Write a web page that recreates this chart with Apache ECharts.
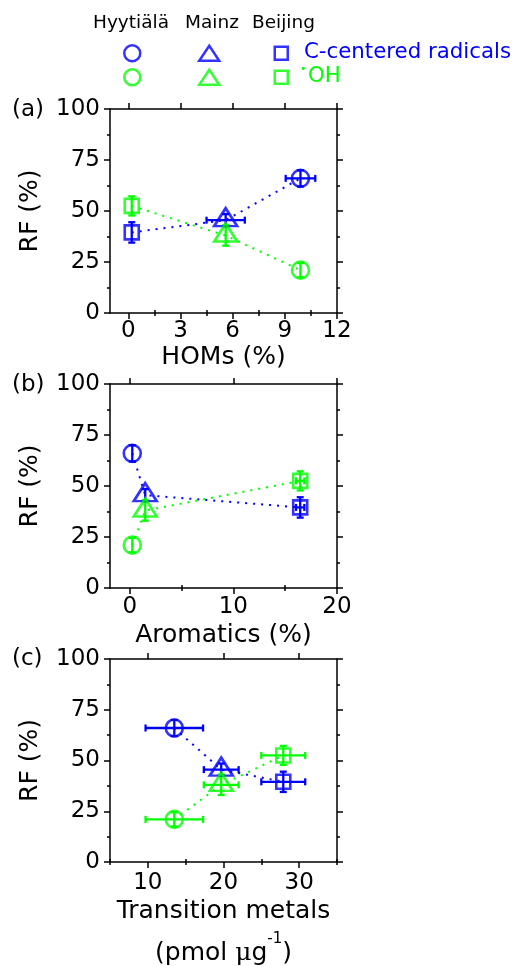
<!DOCTYPE html>
<html>
<head>
<meta charset="utf-8">
<script src="https://cdn.jsdelivr.net/npm/echarts@6/dist/echarts.min.js"></script>
<style>html,body{margin:0;padding:0;background:#fff;}#c{width:517px;height:966px;}</style>
</head>
<body>
<div id="c"></div>
<script>
// ---------------- data ----------------
const sites = ['Hyytiälä', 'Mainz', 'Beijing'];
const radicalTypes = ['C-centered radicals', 'OH'];
// RF (%) for each site (Hyytiälä, Mainz, Beijing)
const cRF = [66, 45.5, 39.5];
const cRFErr = [4, 3, 5];
const ohRF = [21, 38, 52.5];
const ohRFErr = [3.5, 5, 4.7];
// panel (a) HOMs (%)
const homsX = [9.9, 5.6, 0.2];
const homsXErrC = [0.85, 1.1, 0];
const homsXErrOH = [0, 0, 0];
// panel (b) Aromatics (%)
const aromX = [0.25, 1.5, 16.45];
const aromXErrC = [0, 0, 0.4];
const aromXErrOH = [0, 0, 0.4];
// panel (c) Transition metals (pmol/ug)
const tmX = [13.5, 19.7, 27.9];
const tmXErrC = [3.8, 2.3, 2.9];
const tmXErrOH = [3.8, 2.3, 2.9];
// tick labels
const homsTicks = [0, 3, 6, 9, 12];
const homsMinor = [1.5, 4.5, 7.5, 10.5];
const aromTicks = [0, 10, 20];
const aromMinor = [5, 15];
const tmTicks = [10, 20, 30];
const tmMinor = [5, 15, 25, 35];
const rfTicks = [0, 25, 50, 75, 100];

// ---------------- styles ----------------
const BLUE = '#0000ff', GREEN = '#00ff00';
const FONT = 'DejaVu Sans';
const symbols = ['circle', 'triangle', 'rect'];
const symSizes = [17, [23, 18], 14];
const symOffsets = [[0, 0], [0, -3], [0, 0]];

const panels = [
  { x: homsX, xeC: homsXErrC, xeO: homsXErrOH, min: -1.05, max: 12, ticks: homsTicks, minor: homsMinor,
    name: 'HOMs (%)', top: 109, height: 204, nameGap: 25, lh: 38, lm: 7, tag: '(a)' },
  { x: aromX, xeC: aromXErrC, xeO: aromXErrOH, min: -1.9, max: 20, ticks: aromTicks, minor: aromMinor,
    name: 'Aromatics (%)', top: 384, height: 204, nameGap: 28, lh: 38, lm: 8, tag: '(b)' },
  { x: tmX, xeC: tmXErrC, xeO: tmXErrOH, min: 5, max: 35, ticks: tmTicks, minor: tmMinor,
    name: 'Transition metals\n(pmol {g|μ}g{sup|-1})', top: 659, height: 203, nameGap: 28, lh: 42, lm: 10, tag: '(c)' }
];

const axLine = { show: true, onZero: false, lineStyle: { color: '#000', width: 1.5 } };
const tickStyle = { color: '#000', width: 1.5 };

const grid = [], xAxis = [], yAxis = [], series = [];

panels.forEach((p, i) => {
  grid.push({ left: 110, top: p.top, width: 227, height: p.height, containLabel: false, outerBoundsMode: 'none' });
  const base = { type: 'value', gridIndex: i, min: p.min, max: p.max, splitLine: { show: false } };
  // bottom major
  xAxis.push(Object.assign({}, base, {
    position: 'bottom', axisLine: axLine,
    axisTick: { show: true, length: 6, customValues: p.ticks, lineStyle: tickStyle },
    axisLabel: { show: true, customValues: p.ticks, fontSize: 23, fontFamily: FONT, color: '#000', margin: p.lm },
    name: p.name, nameLocation: 'middle', nameGap: p.nameGap, nameMoveOverlap: false,
    nameTextStyle: { fontSize: 25, fontFamily: FONT, color: '#000', lineHeight: p.lh,
      rich: { sup: { fontSize: 15, fontFamily: FONT, verticalAlign: 'top', lineHeight: 40 },
              g: { fontSize: 25, fontFamily: 'DejaVu Serif', lineHeight: p.lh } } }
  }));
  // bottom minor
  xAxis.push(Object.assign({}, base, {
    position: 'bottom', axisLine: { show: false },
    axisTick: { show: true, length: 3, customValues: p.minor, lineStyle: tickStyle },
    axisLabel: { show: false }
  }));
  // top major
  xAxis.push(Object.assign({}, base, {
    position: 'top', axisLine: axLine,
    axisTick: { show: true, length: 6, customValues: p.ticks, lineStyle: tickStyle },
    axisLabel: { show: false }
  }));
  // top minor
  xAxis.push(Object.assign({}, base, {
    position: 'top', axisLine: { show: false },
    axisTick: { show: true, length: 3, customValues: p.minor, lineStyle: tickStyle },
    axisLabel: { show: false }
  }));
  const ybase = { type: 'value', gridIndex: i, min: rfTicks[0], max: rfTicks[rfTicks.length - 1], interval: 25,
    splitLine: { show: false }, axisLine: axLine,
    axisTick: { show: true, length: 6, lineStyle: tickStyle },
    minorTick: { show: true, splitNumber: 2, length: 3, lineStyle: tickStyle } };
  yAxis.push(Object.assign({}, ybase, {
    position: 'left',
    axisLabel: { show: true, fontSize: 23, fontFamily: FONT, color: '#000', margin: 10 },
    name: 'RF (%)', nameLocation: 'middle', nameRotate: 90, nameGap: 67, nameMoveOverlap: false,
    nameTextStyle: { fontSize: 25, fontFamily: FONT, color: '#000' }
  }));
  yAxis.push(Object.assign({}, ybase, { position: 'right', axisLabel: { show: false } }));

  const xi = i * 4, yi = i * 2;
  const groups = [
    { rf: cRF, rfe: cRFErr, xe: p.xeC, color: BLUE, key: 'C' },
    { rf: ohRF, rfe: ohRFErr, xe: p.xeO, color: GREEN, key: 'OH' }
  ];
  // dotted connecting lines (points ordered along x)
  groups.forEach(g => {
    const pts = p.x.map((xv, k) => [xv, g.rf[k]]).sort((a, b) => a[0] - b[0]);
    series.push({ type: 'line', xAxisIndex: xi, yAxisIndex: yi, data: pts, symbol: 'none', silent: true,
      lineStyle: { color: g.color, width: 2, type: [2, 6] }, z: 1 });
  });
  // error bars
  groups.forEach(g => {
    const data = p.x.map((xv, k) => [xv, g.rf[k], g.xe[k], g.rfe[k]]);
    series.push({
      type: 'custom', xAxisIndex: xi, yAxisIndex: yi, data: data, silent: true, z: 2,
      renderItem: function (params, api) {
        const x = api.value(0), y = api.value(1), xe = api.value(2), ye = api.value(3);
        const st = { stroke: g.color, lineWidth: 2.3 };
        const ch = [];
        const cap = 3.5;
        if (ye > 0) {
          const a = api.coord([x, y - ye]), b = api.coord([x, y + ye]);
          ch.push({ type: 'line', shape: { x1: a[0], y1: a[1], x2: b[0], y2: b[1] }, style: st });
          ch.push({ type: 'line', shape: { x1: a[0] - cap, y1: a[1], x2: a[0] + cap, y2: a[1] }, style: st });
          ch.push({ type: 'line', shape: { x1: b[0] - cap, y1: b[1], x2: b[0] + cap, y2: b[1] }, style: st });
        }
        if (xe > 0) {
          const a = api.coord([x - xe, y]), b = api.coord([x + xe, y]);
          ch.push({ type: 'line', shape: { x1: a[0], y1: a[1], x2: b[0], y2: b[1] }, style: st });
          ch.push({ type: 'line', shape: { x1: a[0], y1: a[1] - cap, x2: a[0], y2: a[1] + cap }, style: st });
          ch.push({ type: 'line', shape: { x1: b[0], y1: b[1] - cap, x2: b[0], y2: b[1] + cap }, style: st });
        }
        return { type: 'group', children: ch };
      }
    });
  });
  // markers
  groups.forEach(g => {
    sites.forEach((s, k) => {
      series.push({
        type: 'scatter', name: g.key + ' ' + s, xAxisIndex: xi, yAxisIndex: yi, z: 3,
        data: [[p.x[k], g.rf[k]]], symbol: symbols[k], symbolSize: symSizes[k], symbolOffset: symOffsets[k],
        itemStyle: { color: 'rgba(255,255,255,0)', borderColor: g.color, borderWidth: 2.6 },
        emphasis: { disabled: true }, silent: true
      });
    });
  });
});

// legend (icon-only entries laid out as in the reference)
const legCx = [131, 208, 280];
const legRowCy = [52, 76];
const legW = [[16, 16], [20, 15], [13, 13]];
const legend = [];
[['C', BLUE], ['OH', GREEN]].forEach((t, r) => {
  sites.forEach((s, k) => {
    legend.push({
      data: [{ name: t[0] + ' ' + s, icon: symbols[k] }],
      left: legCx[k] - legW[k][0] / 2, top: legRowCy[r] - legW[k][1] / 2,
      itemWidth: legW[k][0], itemHeight: legW[k][1], padding: 0, selectedMode: false,
      formatter: () => '', textStyle: { fontSize: 1, lineHeight: 1 },
      itemStyle: { color: 'rgba(255,255,255,0)', borderColor: t[1], borderWidth: 2.5 }
    });
  });
});

const txt = (x, y, text, size, color, extra) => Object.assign({
  type: 'text', x: x, y: y, silent: true,
  style: { text: text, font: size + 'px "' + FONT + '"', fill: color, verticalAlign: 'middle', align: 'left' }
}, extra || {});

const graphic = [
  txt(93, 23, sites[0], 18.5, '#000'),
  txt(185, 23, sites[1], 18.5, '#000'),
  txt(252, 23, sites[2], 18.5, '#000'),
  txt(304, 52, radicalTypes[0], 21.3, BLUE),
  txt(300, 69, '•', 11, GREEN),
  txt(308, 76, radicalTypes[1], 21.3, GREEN),
  txt(12, 110, panels[0].tag, 23, '#000'),
  txt(12, 385, panels[1].tag, 23, '#000'),
  txt(12, 659, panels[2].tag, 23, '#000')
];

const chart = echarts.init(document.getElementById('c'), null, { renderer: 'canvas' });
chart.setOption({
  animation: false,
  backgroundColor: '#fff',
  textStyle: { fontFamily: FONT },
  grid: grid, xAxis: xAxis, yAxis: yAxis, series: series, legend: legend, graphic: graphic
});
</script>
</body>
</html>
